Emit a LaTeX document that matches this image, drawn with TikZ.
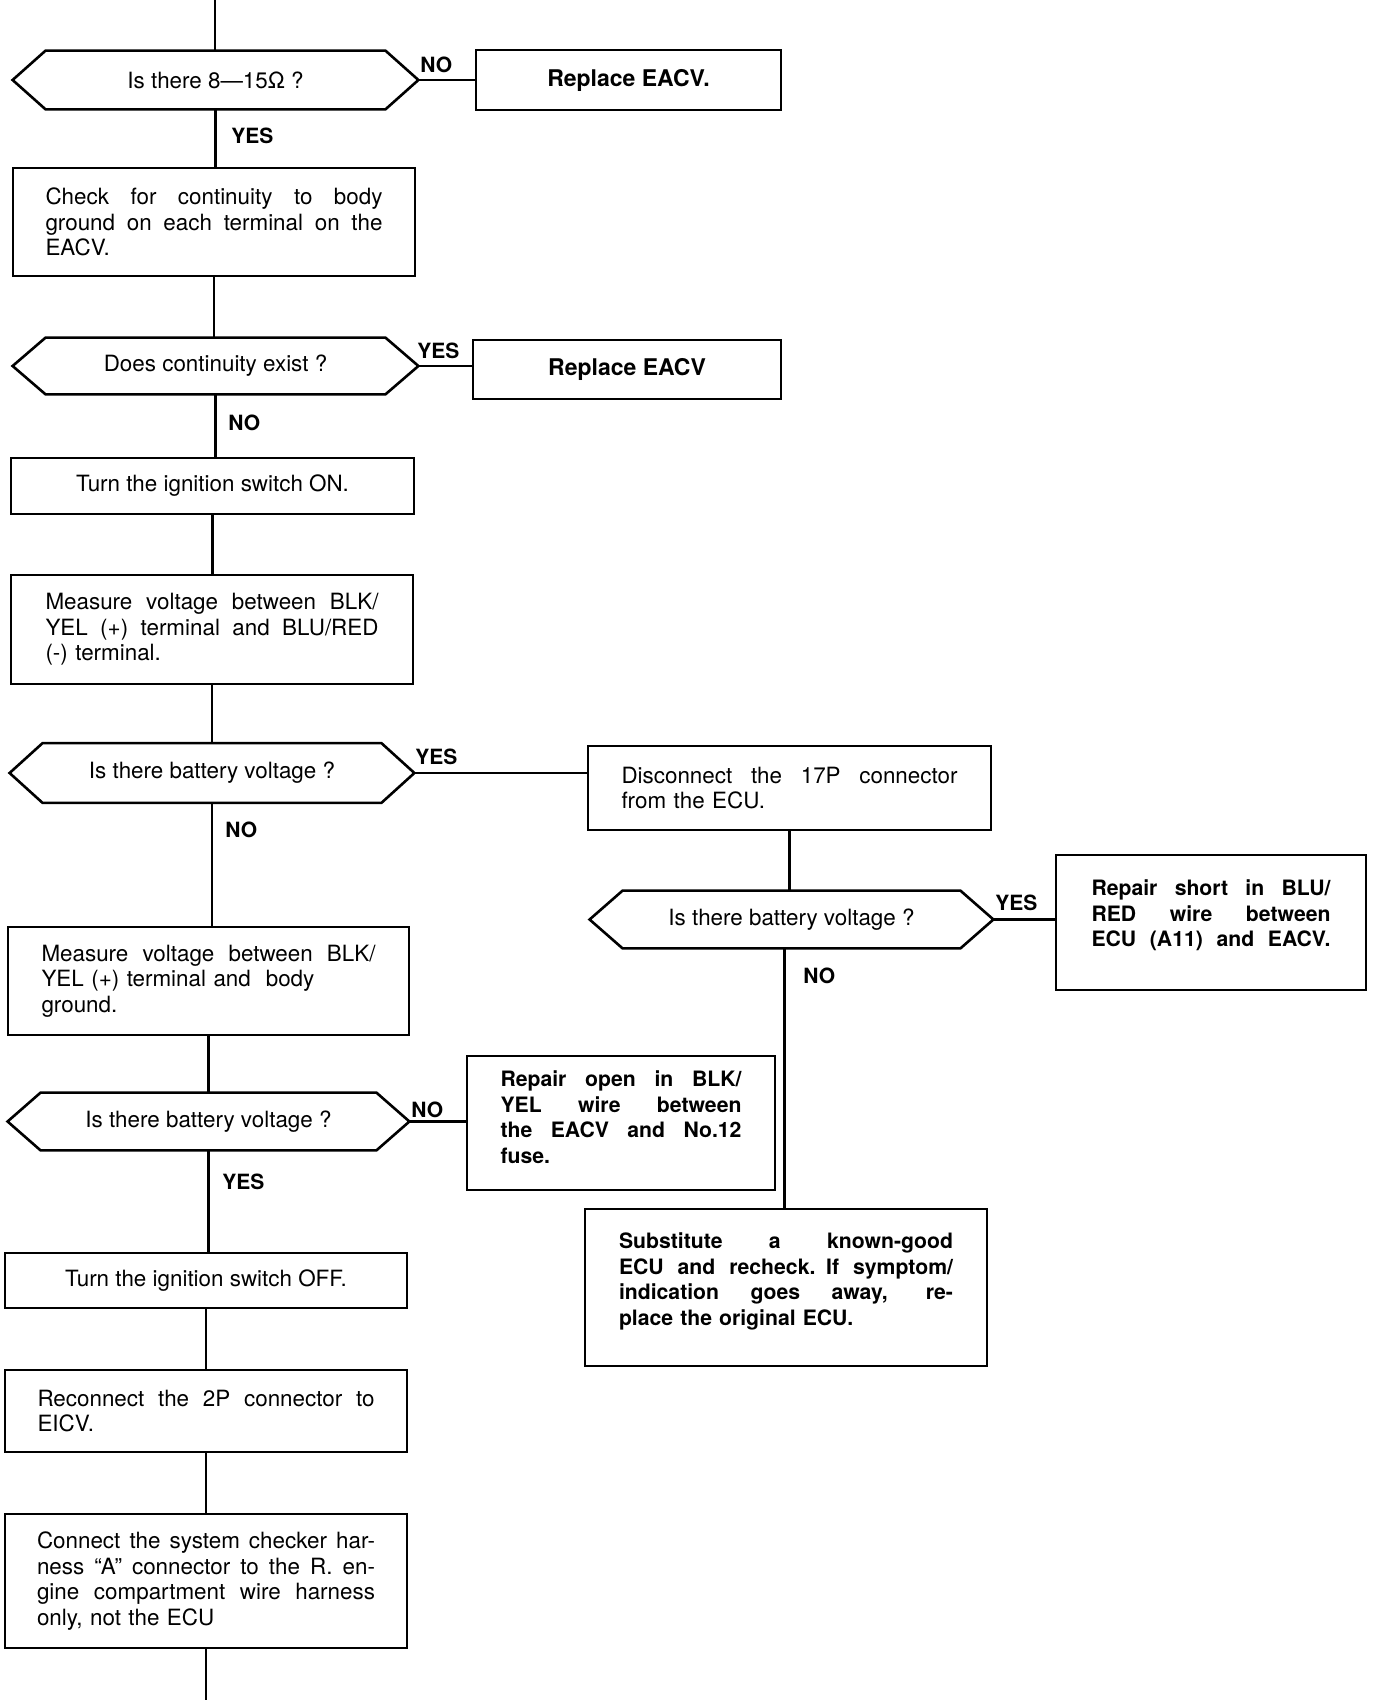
\documentclass[tikz,border=0pt]{standalone}
\usepackage{fontspec}
\setmainfont{TeX Gyre Heros}
\newcommand{\jl}[1]{\hbox to \hsize{\spaceskip=0.25em plus 1fil\relax #1}}
\newcommand{\nl}[1]{\hbox{#1}}
\newcommand{\tb}[1]{\vbox{#1}}
\newcommand{\hexof}[1]{\draw[shp] (#1.north west) -- (#1.north east) -- ([xshift=16.5pt]#1.east) coordinate (#1r) -- (#1.south east) -- (#1.south west) -- ([xshift=-16.5pt]#1.west) coordinate (#1l) -- cycle;}
\begin{document}
\begin{tikzpicture}[x=0.5pt,y=-0.5pt,
  shp/.style={draw, line width=1.3pt, line join=miter},
  con/.style={draw, line width=1.1pt},
  box/.style={shp, rectangle, inner sep=0pt, font=\fontsize{11.2}{12.8}\selectfont},
  bbox/.style={box, font=\fontsize{10.6}{12.8}\selectfont\bfseries},
  rbox/.style={box, font=\fontsize{11.5}{13}\selectfont\bfseries},
  dec/.style={rectangle, inner sep=0pt, font=\fontsize{11.2}{12.8}\selectfont},
  lbl/.style={inner sep=0pt, anchor=west, font=\fontsize{10.5}{12}\selectfont\bfseries}]
\useasboundingbox (0,0) rectangle (1376,1700);

% left column
\node[dec, minimum width=169.5pt, minimum height=29pt] (d1) at (215.5,80) {Is there 8—15Ω ?};
\hexof{d1}
\node[rbox, minimum width=152.5pt, minimum height=30pt] (r1) at (628.5,80) {Replace EACV.};
\node[box, minimum width=201pt, minimum height=54pt, text width=168.5pt] (chk) at (214,222)
  {\tb{\jl{Check for continuity to body}\jl{ground on each terminal on the}\nl{EACV.}}};
\node[dec, minimum width=169.5pt, minimum height=28pt] (d2) at (215.5,366) {Does continuity exist ?};
\hexof{d2}
\node[rbox, minimum width=154pt, minimum height=29.5pt] (r2) at (627,369.5) {Replace EACV};
\node[box, minimum width=201.5pt, minimum height=28pt] (on) at (212.5,486) {Turn the ignition switch ON.};
\node[box, minimum width=201pt, minimum height=54.5pt, text width=166.5pt] (m1) at (212,629.5)
  {\tb{\jl{Measure voltage between BLK/}\jl{YEL (+) terminal and BLU/RED}\nl{(-) terminal.}}};
\node[dec, minimum width=169pt, minimum height=29.5pt] (d3) at (212,773) {Is there battery voltage ?};
\hexof{d3}
\node[box, minimum width=200.5pt, minimum height=54pt, text width=167pt] (m2) at (208.5,981)
  {\tb{\jl{Measure voltage between BLK/}\nl{YEL (+) terminal and\ \ body}\nl{ground.}}};
\node[dec, minimum width=167.5pt, minimum height=28.5pt] (d4) at (208.5,1121.5) {Is there battery voltage ?};
\hexof{d4}
\node[bbox, minimum width=154pt, minimum height=67pt, text width=120.5pt] (ro) at (621,1123)
  {\tb{\jl{Repair open in BLK/}\jl{YEL wire between}\jl{the EACV and No.12}\nl{fuse.}\vspace*{6pt}}};
\node[box, minimum width=201pt, minimum height=27.5pt] (off) at (206,1280.5) {Turn the ignition switch OFF.};
\node[box, minimum width=201pt, minimum height=41pt, text width=168.5pt] (rec) at (206,1411)
  {\tb{\jl{Reconnect the 2P connector to}\nl{EICV.}}};
\node[box, minimum width=201pt, minimum height=67pt, text width=169pt] (conn) at (206,1581)
  {\tb{\jl{Connect the system checker har-}\jl{ness “A” connector to the R. en-}\jl{gine compartment wire harness}\nl{only, not the ECU}}};

% right column
\node[box, minimum width=201.5pt, minimum height=42pt, text width=168pt] (disc) at (789.5,788)
  {\tb{\jl{Disconnect the 17P connector}\nl{from the ECU.}}};
\node[dec, minimum width=168.5pt, minimum height=28.5pt] (d5) at (791.5,919.5) {Is there battery voltage ?};
\hexof{d5}
\node[bbox, minimum width=155pt, minimum height=67.5pt, text width=119.5pt] (rs) at (1211,922.5)
  {\tb{\jl{Repair short in BLU/}\jl{RED wire between}\jl{ECU (A11) and EACV.}\vspace*{7pt}}};
\node[bbox, minimum width=201pt, minimum height=78.5pt, text width=167pt] (sub) at (786,1287.5)
  {\tb{\jl{Substitute a known-good}\jl{ECU and recheck. If symptom/}\jl{indication goes away, re-}\nl{place the original ECU.}\vspace*{6pt}}};

% connectors
\coordinate (ctop) at (215,0);
\coordinate (cbot) at (206,1700);
\draw[con] (ctop) -- (ctop |- d1.north);
\draw[con] (d1r) -- (d1r -| r1.west);
\draw[con] (d1.south) -- (d1.south |- chk.north);
\draw[con] (chk.south) -- (chk.south |- d2.north);
\draw[con] (d2r) -- (d2r -| r2.west);
\draw[con] (d2.south) -- (d2.south |- on.north);
\draw[con] (on.south) -- (on.south |- m1.north);
\draw[con] (m1.south) -- (m1.south |- d3.north);
\draw[con] (d3r) -- (d3r -| disc.west);
\draw[con] (d3.south) -- (d3.south |- m2.north);
\draw[con] (m2.south) -- (m2.south |- d4.north);
\draw[con] (d4r) -- (d4r -| ro.west);
\draw[con] (d4.south) -- (d4.south |- off.north);
\draw[con] (off.south) -- (off.south |- rec.north);
\draw[con] (rec.south) -- (rec.south |- conn.north);
\draw[con] (conn.south) -- (conn.south |- cbot);
\draw[con] (disc.south) -- (disc.south |- d5.north);
\draw[con] (d5r) -- (d5r -| rs.west);
\draw[con] ([xshift=-3.5pt]d5.south) -- ([xshift=-3.5pt]d5.south |- sub.north);

% labels
\node[lbl] (l1) at (420,65) {NO};
\node[lbl] (l2) at (231,136) {YES};
\node[lbl] (l3) at (417,351) {YES};
\node[lbl] (l4) at (228,423) {NO};
\node[lbl] (l5) at (415,757) {YES};
\node[lbl] (l6) at (225,830) {NO};
\node[lbl] (l7) at (995,903) {YES};
\node[lbl] (l8) at (803,976) {NO};
\node[lbl] (l9) at (411,1110) {NO};
\node[lbl] (l10) at (222,1182) {YES};
\end{tikzpicture}
\end{document}
